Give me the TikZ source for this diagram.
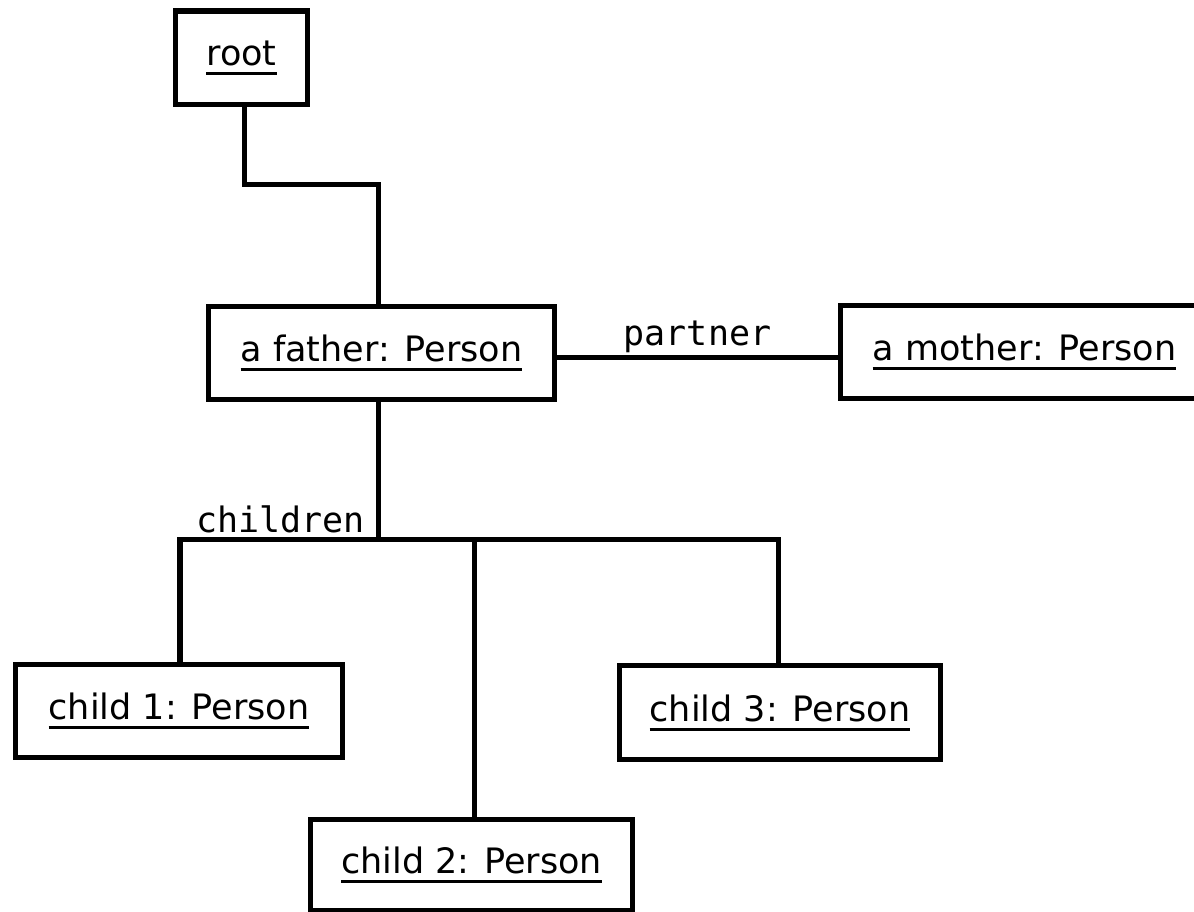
\documentclass[tikz,border=0pt]{standalone}
\usepackage{fontspec}
\setmainfont{DejaVu Sans}
\setmonofont{DejaVu Sans Mono}
\newcommand\myul[1]{\leavevmode\setbox0\hbox{#1}\rlap{\rule[-9.5pt]{\wd0}{2.8pt}}\box0}
\begin{document}
\begin{tikzpicture}[x=1pt,y=-1pt,
  obj/.style={draw, line width=5.5pt, rectangle, inner sep=0pt, fill=white,
              font=\fontsize{35}{42}\selectfont},
  conn/.style={line width=5.5pt},
  lbl/.style={font=\ttfamily\fontsize{35}{42}\selectfont, inner sep=0pt}]
\useasboundingbox (0,0) rectangle (1194,912);
\clip (0,0) rectangle (1194,912);
\node[obj, minimum width=132pt, minimum height=93.5pt] (root) at (241.5,57.75) {\myul{root}};
\node[obj, minimum width=346pt, minimum height=93pt] (father) at (381.5,353) {\myul{a father: Person}};
\node[obj, minimum width=368pt, minimum height=93pt] (mother) at (1024.5,352) {\myul{a mother: Person}};
\node[obj, minimum width=327pt, minimum height=93pt] (child1) at (179,711) {\myul{child 1: Person}};
\node[obj, minimum width=322pt, minimum height=91pt] (child2) at (471.5,865) {\myul{child 2: Person}};
\node[obj, minimum width=321pt, minimum height=94pt] (child3) at (780,712.5) {\myul{child 3: Person}};
\coordinate (bus) at (378.5,539.5);
% root to father
\draw[conn] ([xshift=3pt]root.south) |- (311,184.5) -| ([xshift=-3pt]father.north);
% partner
\draw[conn] ([yshift=-4.5pt]father.east) -- ([yshift=-4.5pt]father.east -| mother.west)
  node[lbl, midway, anchor=base, yshift=12.5pt] (partner) {partner};
% children
\draw[conn] ([xshift=-3pt]father.south) -- (bus);
\draw[conn] ([xshift=1pt]child1.north) |- (bus) -| ([xshift=-1.5pt]child3.north);
\draw[conn] ([xshift=3pt]child2.north) -- ([xshift=3pt]child2.north |- bus);
\node[lbl, anchor=base east] (children) at (365,532) {children};
\end{tikzpicture}
\end{document}
